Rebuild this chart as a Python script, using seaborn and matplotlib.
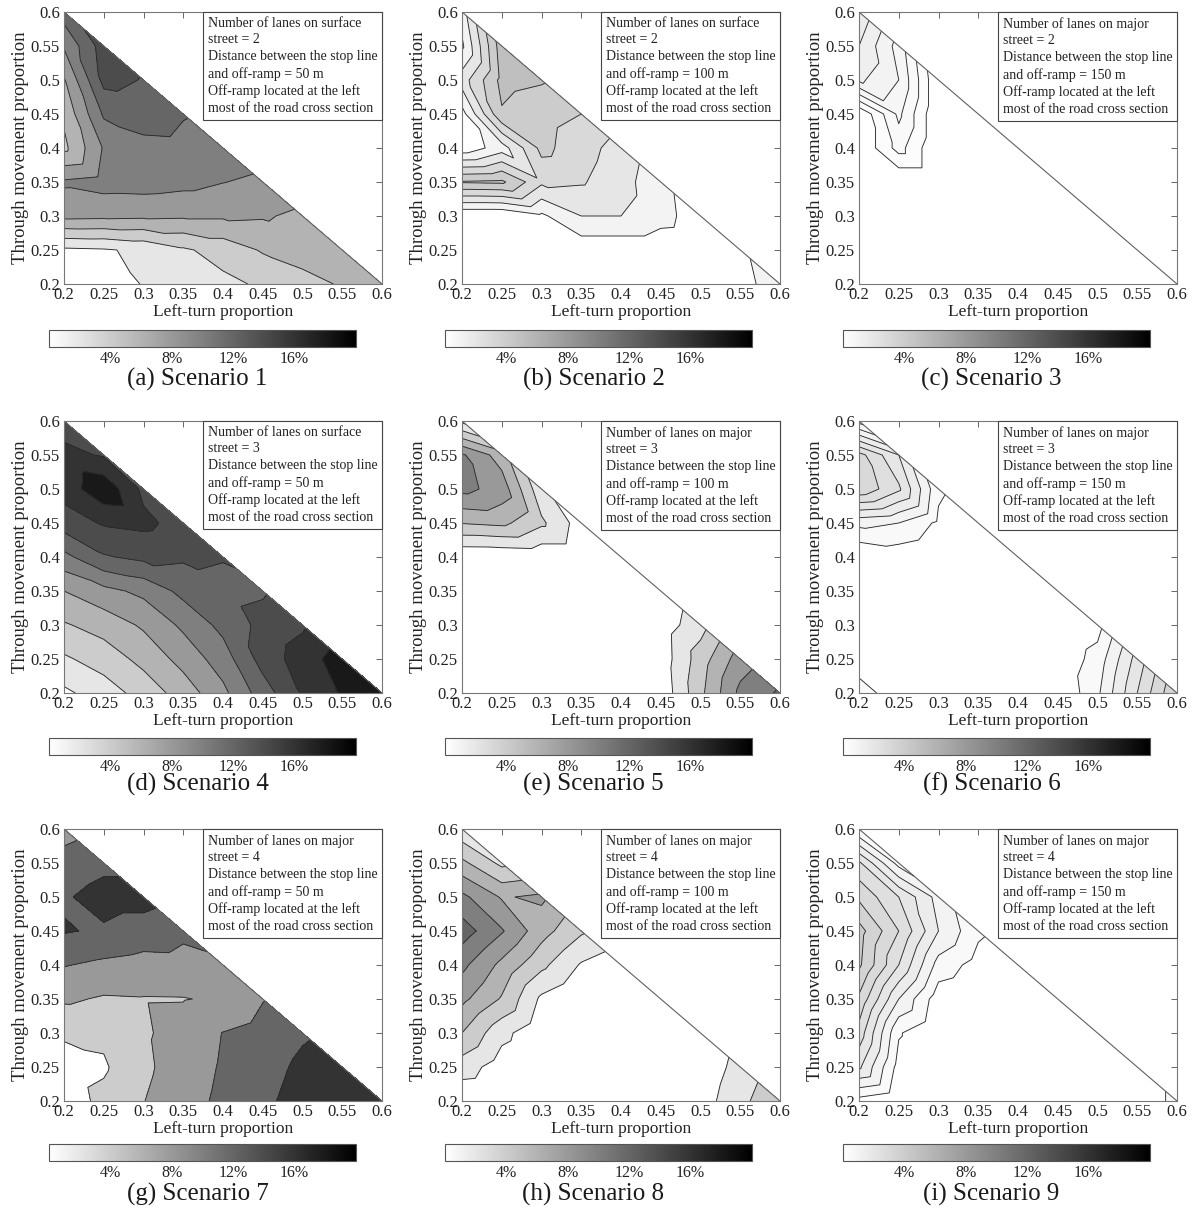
import numpy as np
import seaborn as sns
import matplotlib
matplotlib.use("Agg")
import matplotlib.pyplot as plt
import matplotlib.tri as mtri
from matplotlib.colors import Normalize
from matplotlib.cm import ScalarMappable

# grid of the runs (left-turn on x, through movement on y), only x + y <= 0.8
grid = [0.2, 0.25, 0.3, 0.35, 0.4, 0.45, 0.5, 0.55, 0.6]

# rows go from y = 0.2 (first) to y = 0.6 (last); each row starts at x = 0.2
s1 = [[0.5, 1.0, 2.1, 2.8, 3.5, 4.3, 5.3, 6.2, 6.8],
      [1.6, 1.8, 2.4, 3.7, 4.8, 6.2, 6.9, 7.4],
      [8.6, 8.5, 8.4, 8.3, 8.3, 8.2, 7.6],
      [10.3, 10.8, 10.9, 10.6, 10.05, 9.6],
      [5.5, 10.2, 11.5, 11.6, 11.3],
      [6.4, 12.3, 12.8, 12.1],
      [7.8, 14.6, 13.9],
      [10.2, 15.0],
      [13.0]]
s2 = [[0.0, 0.0, 0.0, 0.0, 0.0, 0.0, 0.0, 0.6, 1.6],
      [0.0, 0.0, 0.0, 0.3, 0.3, 0.3, 0.2, 0.8],
      [0.0, 0.0, 0.8, 2.0, 2.0, 1.4, 0.4],
      [5.1, 5.2, 3.2, 3.1, 2.4, 1.3],
      [0.3, 1.5, 4.3, 3.4, 2.6],
      [0.6, 4.9, 4.4, 4.0],
      [2.5, 5.3, 5.1],
      [0.8, 5.6],
      [1.5]]
s3 = [[0, 0, 0, 0, 0, 0, 0, 0, 0],
      [0, 0, 0, 0, 0, 0, 0, 0],
      [0, 0, 0, 0, 0, 0, 0],
      [0, 0, 0, 0, 0, 0],
      [0, 0.6, 0, 0, 0],
      [0, 0.81, 0, 0],
      [1.3, 1.0, 0],
      [1.5, 0.9],
      [1.7]]
s4 = [[1.6, 3.0, 4.8, 6.9, 9.5, 13.0, 16.2, 18.2, 18.0],
      [3.7, 4.9, 6.6, 8.7, 11.0, 14.8, 17.0, 19.0],
      [5.8, 6.8, 8.3, 10.4, 12.6, 14.6, 15.7],
      [8.0, 9.4, 10.5, 12.6, 13.5, 13.8],
      [11.4, 13.8, 14.5, 14.3, 14.1],
      [15.0, 16.2, 16.5, 15.2],
      [16.8, 19.5, 15.5],
      [16.6, 15.8],
      [15.0]]
s5 = [[0, 0, 0, 0, 0, 0.5, 5.5, 10.5, 12.3],
      [0, 0, 0, 0, 0, 0.8, 5.0, 9.0],
      [0, 0, 0, 0, 0, 0.9, 3.2],
      [0, 0, 0, 0, 0, 0.5],
      [0.23, 0.3, 0.5, 0.5, 0],
      [6.1, 6.5, 4.4, 1.0],
      [10.6, 9.2, 2.5],
      [10.3, 7.0],
      [1.5]]
s6 = [[0.9, 0, 0, 0, 0, 0, 0.9, 2.5, 4.0],
      [0, 0, 0, 0, 0, 0.1, 0.7, 2.2],
      [0, 0, 0, 0, 0, 0, 0.3],
      [0, 0, 0, 0, 0, 0],
      [0, 0.2, 0, 0, 0],
      [1.15, 1.0, 0.4, 0],
      [3.4, 2.6, 0.6],
      [3.2, 2.0],
      [0.3]]
s7 = [[2.0, 5.0, 7.9, 10.5, 12.8, 15.2, 17.5, 18.5, 19.0],
      [2.5, 3.5, 7.2, 10.0, 12.4, 14.5, 16.8, 18.0],
      [4.5, 4.8, 7.5, 9.5, 12.1, 13.5, 15.5],
      [8.6, 7.6, 7.8, 7.85, 8.5, 11.8],
      [12.2, 11.2, 10.5, 10.7, 11.5],
      [16.3, 15.5, 14.3, 12.8],
      [15.55, 17.5, 17.5],
      [13.5, 15.0],
      [10.5]]
s8 = [[0.3, 0, 0, 0, 0, 0, 1.0, 3.5, 5.5],
      [3.0, 1.0, 0, 0, 0, 0, 0.5, 2.8],
      [6.0, 2.6, 0.5, 0, 0, 0, 0],
      [8.5, 5.8, 1.6, 0, 0, 0],
      [10.5, 7.5, 4.5, 1.8, 0.5],
      [13.0, 10.2, 6.8, 4.3],
      [10.5, 7.8, 8.4],
      [6.5, 3.5],
      [2.5]]
s9 = [[0.3, 0, 0, 0, 0, 0, 0, 0, 0.7],
      [2.1, 0.3, 0, 0, 0, 0, 0, 0],
      [2.8, 0.55, 0, 0, 0, 0, 0],
      [3.4, 1.5, 0.2, 0, 0, 0],
      [4.1, 2.5, 0.8, 0.3, 0],
      [4.2, 3.0, 1.5, 0.6],
      [3.4, 2.5, 1.3],
      [2.6, 0.8],
      [0.5]]

scenarios = [s1, s2, s3, s4, s5, s6, s7, s8, s9]
steps = [2, 1, 0.25, 2, 2, 0.5, 4, 2, 0.5]
streets = ["surface", "surface", "major", "surface", "major", "major",
           "major", "major", "major"]
lanes = [2, 2, 2, 3, 3, 3, 4, 4, 4]
dists = [50, 100, 150, 50, 100, 150, 50, 100, 150]
letters = "abcdefghi"
cb_ticks = [4, 8, 12, 16]

sns.set_theme(style="white")
plt.rcParams["font.family"] = ["Liberation Serif", "DejaVu Serif"]

cmap = sns.blend_palette(["#ffffff", "#000000"], as_cmap=True)
norm = Normalize(0, 20)

# triangulation of the triangle domain
pts = [(i, j) for j in range(9) for i in range(9 - j)]
idx = {p: k for k, p in enumerate(pts)}
tris = []
for j in range(8):
    for i in range(8 - j):
        tris.append([idx[(i, j)], idx[(i + 1, j)], idx[(i, j + 1)]])
        if i + j + 2 <= 8:
            tris.append([idx[(i + 1, j)], idx[(i + 1, j + 1)], idx[(i, j + 1)]])
px = [grid[i] for i, j in pts]
py = [grid[j] for i, j in pts]
tri = mtri.Triangulation(px, py, tris)

W, H = 1198, 1211
fig = plt.figure(figsize=(W / 100, H / 100), dpi=100)

ax_left = [64, 462, 859]
ax_top = [12, 421, 829]
ax_w, ax_h = 318, 272
cb_left = [49, 445, 843]
cb_top = [330, 738, 1144]
cb_w, cb_h = 307, 17
title_base = [386, 791, 1201]

for k, rows in enumerate(scenarios):
    r, c = divmod(k, 3)
    ax = fig.add_axes([ax_left[c] / W, 1 - (ax_top[r] + ax_h) / H, ax_w / W, ax_h / H])
    z = [rows[j][i] for i, j in pts]
    st = steps[k]
    lv = [-1] + list(np.arange(st, 20 + st, st))
    fills = [cmap(norm(max(v, 0))) for v in lv[:-1]]
    ax.tricontourf(tri, z, levels=lv, colors=fills)
    ax.tricontour(tri, z, levels=list(np.arange(st, 20, st)),
                  colors="#2b2b2b", linewidths=0.65)
    ax.plot(grid, [0.8 - g for g in grid], color="#606060", lw=0.8)

    ax.set_xlim(0.2, 0.6)
    ax.set_ylim(0.2, 0.6)
    ax.set_xticks(grid)
    ax.set_yticks(grid)
    ax.set_xticklabels([f"{g:g}" for g in grid])
    ax.set_yticklabels([f"{g:g}" for g in grid])
    ax.tick_params(direction="in", top=True, right=True, length=4, width=0.7,
                   labelsize=12, colors="#666666", labelcolor="#222222")
    ax.tick_params(axis="x", pad=2)
    ax.tick_params(axis="y", pad=3)
    for sp in ax.spines.values():
        sp.set_color("#777777")
        sp.set_linewidth(0.8)
    ax.set_xlabel("Left-turn proportion", fontsize=12.5, labelpad=1, color="#222222")
    ax.set_ylabel("Through movement proportion", fontsize=13.5, labelpad=1, color="#222222")

    note = (f"Number of lanes on {streets[k]}\nstreet = {lanes[k]}\n"
            f"Distance between the stop line\nand off-ramp = {dists[k]} m\n"
            "Off-ramp located at the left\nmost of the road cross section")
    ax.text(0.985, 0.982, note, transform=ax.transAxes, ha="right", va="top",
            multialignment="left", fontsize=10, linespacing=1.36, color="#222222",
            bbox=dict(boxstyle="square,pad=0.35", fc="white", ec="#444444", lw=0.8),
            zorder=5)

    cax = fig.add_axes([cb_left[c] / W, 1 - (cb_top[r] + cb_h) / H, cb_w / W, cb_h / H])
    cb = fig.colorbar(ScalarMappable(norm=norm, cmap=cmap), cax=cax,
                      orientation="horizontal")
    cb.set_ticks(cb_ticks)
    cb.set_ticklabels([f"{t}%" for t in cb_ticks])
    cax.tick_params(direction="in", top=True, bottom=True, length=3, width=0.7,
                    labelsize=11.5, pad=3, colors="#555555", labelcolor="#222222")
    cb.outline.set_edgecolor("#555555")
    cb.outline.set_linewidth(0.8)

    fig.text((cb_left[c] + cb_w / 2 - 5) / W, 1 - title_base[r] / H,
             f"({letters[k]}) Scenario {k + 1}", ha="center", va="baseline",
             fontsize=18, color="#1a1a1a")

fig.savefig("out.png", dpi=100, facecolor="white")
